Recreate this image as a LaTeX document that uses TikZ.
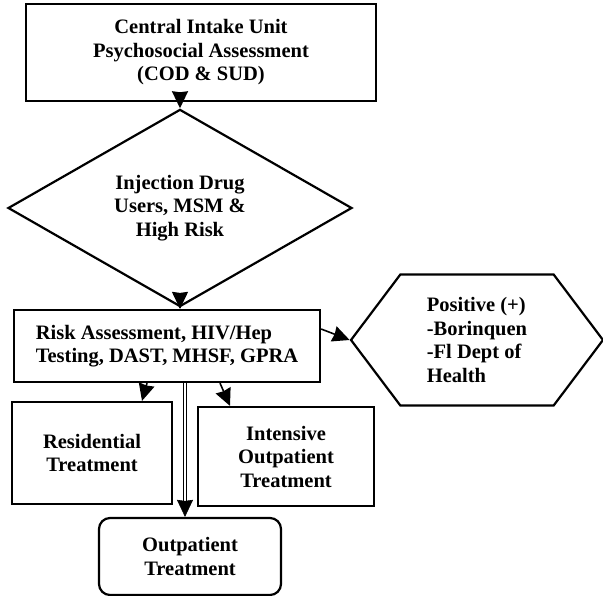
\documentclass[tikz,border=0pt]{standalone}
\usepackage{fontspec}
\setmainfont{Liberation Serif}
\usetikzlibrary{shapes,arrows.meta,positioning}

\begin{document}
\begin{tikzpicture}[x=1pt,y=-1pt,
    font=\bfseries\fontsize{20.5}{23.5}\selectfont,
    box/.style={draw,line width=2.2pt,align=center,inner sep=2pt},
    arr/.style={-{Stealth[length=17pt,width=16pt,inset=1pt]},line width=1.6pt}]
    \useasboundingbox (0,0) rectangle (603,596);

    \node[box,minimum width=350pt,minimum height=97pt] (intake) at (201,52.5) {Central Intake Unit\\Psychosocial Assessment\\(COD \& SUD)};
    \node[box,diamond,minimum width=344pt,minimum height=169pt,inner sep=0pt] (idu) at (180,208) {Injection Drug\\Users, MSM \&\\High Risk};
    \node[box,align=left,minimum width=306pt,minimum height=72pt] (risk) at (167,346) {Risk Assessment, HIV/Hep\\Testing, DAST, MHSF, GPRA};
    \node[box,signal,signal to=east and west,signal pointer angle=106,align=left,minimum width=252pt,minimum height=131pt] (pos) at (477,340) {Positive (+)\\-Borinquen\\-Fl Dept of\\Health};
    \node[box,minimum width=160pt,minimum height=102pt] (res) at (92,453) {Residential\\Treatment};
    \node[box,minimum width=176pt,minimum height=99pt] (iop) at (286,456.5) {Intensive\\Outpatient\\Treatment};
    \node[box,rounded corners=11pt,minimum width=182pt,minimum height=77pt] (op) at (190,556.5) {Outpatient\\Treatment};

    \draw[arr] (idu.north |- intake.south) -- (idu.north);
    \draw[arr] (idu.south) -- (idu.south |- risk.north);
    \draw[arr] ([yshift=17pt]risk.east) -- (pos.west);
    \draw[arr] ([xshift=-20pt]risk.south) -- ([xshift=50pt]res.north);
    \draw[arr] ([xshift=53pt]risk.south) -- ([xshift=-56pt]iop.north);
    \draw[arr,line width=0.6pt,double,double distance=2pt] ([xshift=18pt]risk.south) -- ([xshift=-5pt]op.north);
\end{tikzpicture}
\end{document}
